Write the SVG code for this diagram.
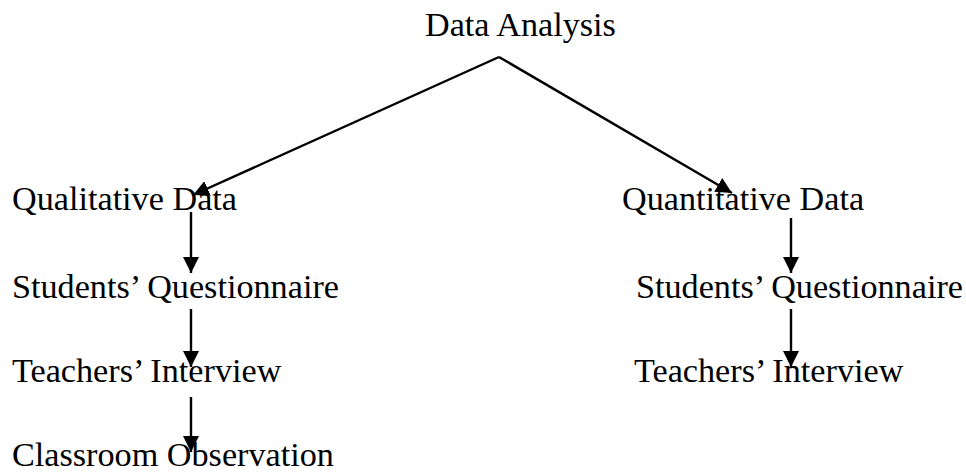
<svg xmlns="http://www.w3.org/2000/svg" width="966" height="473" viewBox="0 0 966 473">
<defs>
<marker id="ah" markerWidth="17" markerHeight="16" refX="16" refY="8" orient="auto" markerUnits="userSpaceOnUse">
<path d="M0,0 L16,8 L0,16 Z" fill="#000"/>
</marker>
<style>
text{font-family:"Liberation Serif","Times New Roman",serif;font-size:34.2px;fill:#000}
.c line{stroke:#000;stroke-width:2.4;marker-end:url(#ah)}
</style>
</defs>
<rect width="966" height="473" fill="#fff"/>
<g id="n-root"><text x="425" y="36">Data Analysis</text></g>
<g id="n-qual"><text x="12" y="210">Qualitative Data</text></g>
<g id="n-qual-sq"><text x="12" y="298">Students’ Questionnaire</text></g>
<g id="n-qual-ti"><text x="12" y="382">Teachers’ Interview</text></g>
<g id="n-qual-co"><text x="12" y="466">Classroom Observation</text></g>
<g id="n-quan"><text x="622" y="210">Quantitative Data</text></g>
<g id="n-quan-sq"><text x="636" y="298">Students’ Questionnaire</text></g>
<g id="n-quan-ti"><text x="634" y="382">Teachers’ Interview</text></g>
<g class="c" id="connectors">
<line x1="499" y1="57" x2="193" y2="195"/>
<line x1="499" y1="57" x2="732" y2="193"/>
<line x1="191" y1="212" x2="191" y2="273"/>
<line x1="191" y1="309" x2="191" y2="367"/>
<line x1="191" y1="397" x2="191" y2="452"/>
<line x1="791" y1="218" x2="791" y2="273"/>
<line x1="791" y1="309" x2="791" y2="367"/>
</g>
</svg>
